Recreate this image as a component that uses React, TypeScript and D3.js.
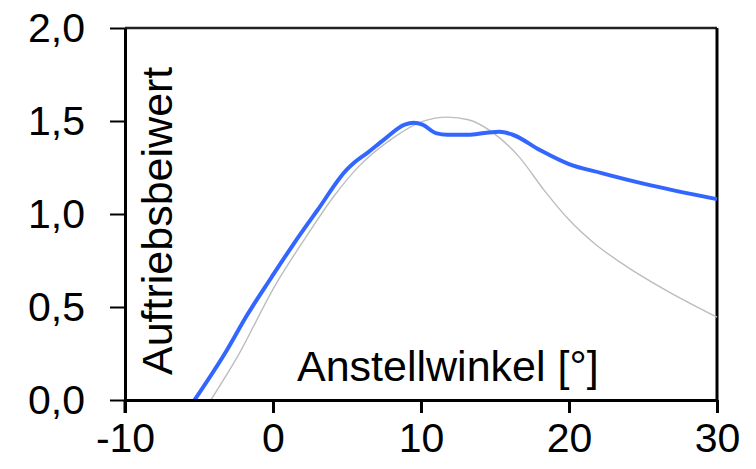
import React, { useEffect, useRef } from 'react';
import * as d3 from 'd3';

// --- Data ---
const xTicks = [-10, 0, 10, 20, 30];
const yTicks = [0, 0.5, 1.0, 1.5, 2.0];

// measured lift coefficient (blue)
const measuredAlpha = [-5.3, -3.1, -1.8, -0.1, 1.4, 3.0, 5.0, 5.4, 6.4, 7.5, 8.9, 9.5, 10.1, 11.0, 11.8, 13.2, 14.3, 15.3, 16.2, 18.0, 20.0, 22.2, 25.1, 30.0];
const measuredCl = [0.0, 0.27, 0.45, 0.66, 0.84, 1.02, 1.24, 1.27, 1.33, 1.40, 1.48, 1.49, 1.48, 1.435, 1.426, 1.426, 1.435, 1.442, 1.426, 1.345, 1.268, 1.22, 1.162, 1.08];

// reference curve (grey)
const refAlpha = [-4.2, -2.4, 0.1, 2.4, 4.1, 5.8, 8.1, 10.1, 11.8, 13.2, 14.9, 16.6, 18.3, 20.0, 21.7, 23.9, 26.5, 30.0];
const refCl = [0.0, 0.233, 0.61, 0.897, 1.094, 1.256, 1.408, 1.498, 1.521, 1.507, 1.435, 1.31, 1.13, 0.969, 0.843, 0.717, 0.592, 0.445];

const fmt = (v: number) => v.toFixed(1).replace('.', ',');

const LiftChart = () => {
  const ref = useRef<SVGSVGElement | null>(null);

  useEffect(() => {
    if (!ref.current) return;
    const svg = d3.select(ref.current);
    svg.selectAll('*').remove();

    const W = 756, H = 469;
    const margin = { top: 28, right: 39, bottom: 69, left: 125 };
    const font = '"Liberation Sans", Arial, sans-serif';

    const x = d3.scaleLinear().domain([-10, 30]).range([margin.left, W - margin.right]);
    const y = d3.scaleLinear().domain([0, 2]).range([H - margin.bottom, margin.top]);

    // frame (top + right)
    svg.append('line')
      .attr('x1', x(-10)).attr('x2', x(30)).attr('y1', y(2)).attr('y2', y(2))
      .attr('stroke', '#222').attr('stroke-width', 2.5);
    svg.append('line')
      .attr('x1', x(30)).attr('x2', x(30)).attr('y1', y(2)).attr('y2', y(0))
      .attr('stroke', '#000').attr('stroke-width', 3);

    const line = d3.line<[number, number]>()
      .x(d => x(d[0])).y(d => y(d[1]))
      .curve(d3.curveMonotoneX);

    svg.append('path')
      .datum(refAlpha.map((a, i) => [a, refCl[i]] as [number, number]))
      .attr('d', line)
      .attr('fill', 'none').attr('stroke', '#bdbdbd').attr('stroke-width', 1.4);

    svg.append('path')
      .datum(measuredAlpha.map((a, i) => [a, measuredCl[i]] as [number, number]))
      .attr('d', line)
      .attr('fill', 'none').attr('stroke', '#3366ff').attr('stroke-width', 4)
      .attr('stroke-linejoin', 'round');

    // axes
    const xAxis = d3.axisBottom(x).tickValues(xTicks).tickSize(13).tickSizeOuter(0).tickPadding(10)
      .tickFormat(d => String(d));
    const gx = svg.append('g').attr('transform', `translate(0,${y(0)})`).call(xAxis);
    gx.select('.domain').attr('stroke', '#000').attr('stroke-width', 3);
    gx.selectAll('.tick line').attr('stroke', '#000').attr('stroke-width', 3);
    gx.selectAll('.tick text').attr('fill', '#000').style('font-family', font).style('font-size', '41px');

    const yAxis = d3.axisLeft(y).tickValues(yTicks).tickSize(15).tickSizeOuter(0).tickPadding(25)
      .tickFormat(d => fmt(d as number));
    const gy = svg.append('g').attr('transform', `translate(${x(-10)},0)`).call(yAxis);
    gy.select('.domain').attr('stroke', '#000').attr('stroke-width', 3);
    gy.selectAll('.tick line').attr('stroke', '#000').attr('stroke-width', 2);
    gy.selectAll('.tick text').attr('fill', '#000').style('font-family', font).style('font-size', '41px');

    // extend left axis below x axis
    svg.append('line')
      .attr('x1', x(-10)).attr('x2', x(-10)).attr('y1', y(0)).attr('y2', y(0) + 13)
      .attr('stroke', '#000').attr('stroke-width', 3);

    // axis titles inside the plot
    svg.append('text')
      .attr('x', 297).attr('y', 381)
      .style('font-family', font).style('font-size', '43px').attr('fill', '#000')
      .text('Anstellwinkel [°]');
    svg.append('text')
      .attr('transform', 'translate(172,375) rotate(-90)')
      .style('font-family', font).style('font-size', '43px').attr('fill', '#000')
      .text('Auftriebsbeiwert');
  }, []);

  return <svg ref={ref} width={756} height={469} style={{ display: 'block' }} />;
};

export default function App() {
  return (
    <div style={{ margin: -8 }}>
      <LiftChart />
    </div>
  );
}
